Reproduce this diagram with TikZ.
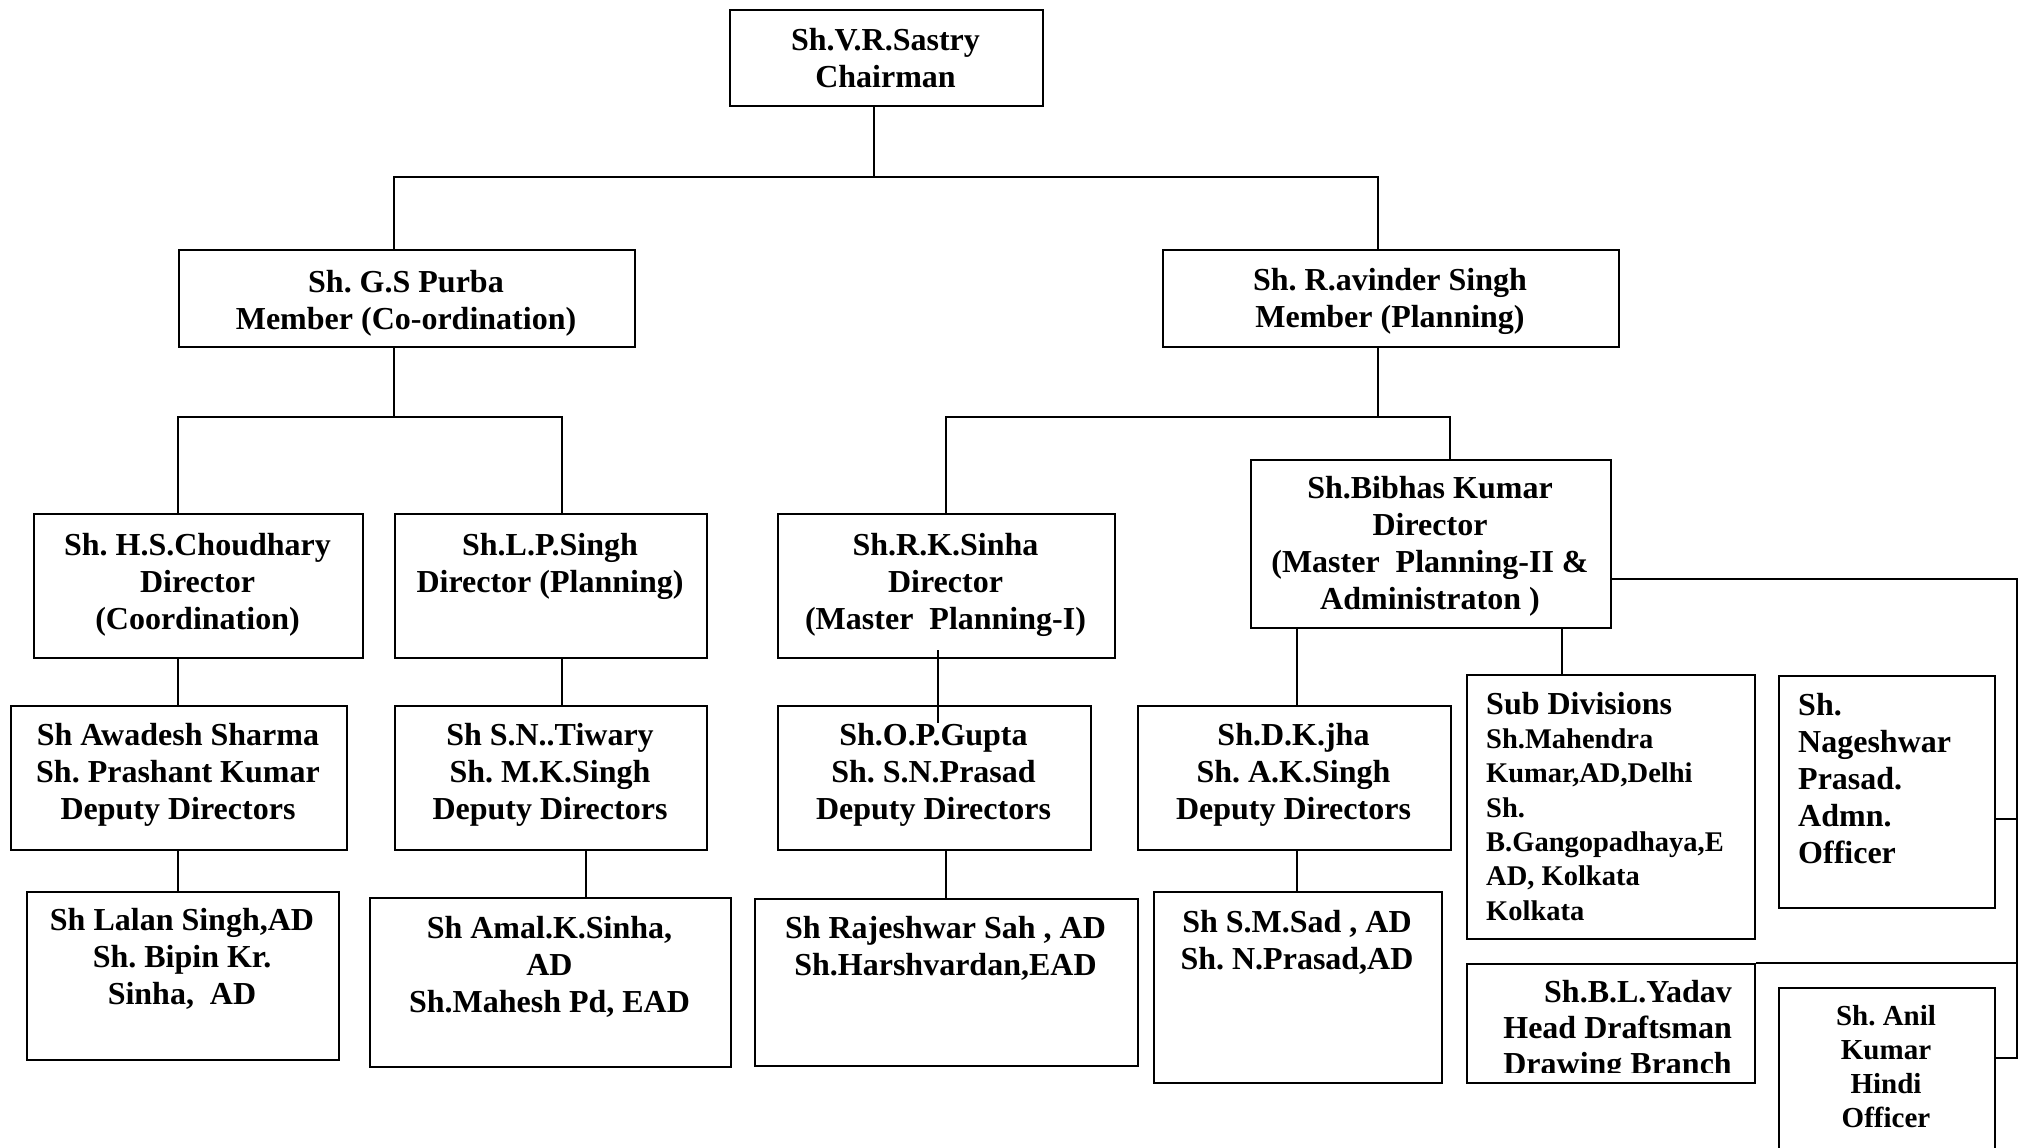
\documentclass[tikz,border=0pt]{standalone}
\usepackage{fontspec}
\setmainfont{Liberation Serif}
\frenchspacing
\newcommand\fl{\rule{0pt}{29pt}}
\newcommand\fs{\rule{0pt}{26pt}}
\tikzset{
  obox/.style={draw, line width=2pt, rectangle, inner sep=0pt, anchor=north west},
  otxt/.style={inner sep=0pt, align=center, anchor=north, font=\fontsize{32}{37}\selectfont\bfseries\frenchspacing},
  conn/.style={line width=1.8pt},
}
\begin{document}
\begin{tikzpicture}[x=1pt,y=-1pt]
\clip (0,0) rectangle (2019,1148);
\fill[white] (0,0) rectangle (2019,1148);

% boxes
\node[obox, minimum width=313pt, minimum height=96pt] (chair) at (729,9) {};
\node[obox, minimum width=456pt, minimum height=97pt] (purba) at (178,249) {};
\node[obox, minimum width=456pt, minimum height=97pt] (ravi) at (1162,249) {};
\node[obox, minimum width=329pt, minimum height=144pt] (chou) at (33,513) {};
\node[obox, minimum width=312pt, minimum height=144pt] (lps) at (394,513) {};
\node[obox, minimum width=337pt, minimum height=144pt] (rks) at (777,513) {};
\node[obox, minimum width=360pt, minimum height=168pt] (bib) at (1250,459) {};
\node[obox, minimum width=336pt, minimum height=144pt] (awa) at (10,705) {};
\node[obox, minimum width=312pt, minimum height=144pt] (tiw) at (394,705) {};
\node[obox, minimum width=313pt, minimum height=144pt] (opg) at (777,705) {};
\node[obox, minimum width=313pt, minimum height=144pt] (dkj) at (1137,705) {};
\node[obox, minimum width=288pt, minimum height=264pt] (subd) at (1466,674) {};
\node[obox, minimum width=216pt, minimum height=232pt] (nag) at (1778,675) {};
\node[obox, minimum width=312pt, minimum height=168pt] (lal) at (26,891) {};
\node[obox, minimum width=361pt, minimum height=169pt] (amal) at (369,897) {};
\node[obox, minimum width=383pt, minimum height=167pt] (raj) at (754,898) {};
\node[obox, minimum width=288pt, minimum height=191pt] (sms) at (1153,891) {};
\node[obox, minimum width=288pt, minimum height=119pt] (yad) at (1466,963) {};
\node[obox, minimum width=216pt, minimum height=190pt] (anil) at (1778,987) {};

% texts
\node[otxt] (chairT) at (885.5,21) {\fl Sh.V.R.Sastry\\Chairman};
\node[otxt] (purbaT) at (406,263) {\fl Sh. G.S Purba\\Member (Co-ordination)};
\node[otxt] (raviT) at (1390,261) {\fl Sh. R.avinder Singh\\Member (Planning)};
\node[otxt] (chouT) at (197.5,526) {\fl Sh. H.S.Choudhary\\Director\\(Coordination)};
\node[otxt] (lpsT) at (550,526) {\fl Sh.L.P.Singh\\Director (Planning)};
\node[otxt] (rksT) at (945.5,526) {\fl Sh.R.K.Sinha\\Director\\(Master~~Planning-I)};
\node[otxt] (bibT) at (1430,469) {\fl Sh.Bibhas Kumar\\Director\\(Master~~Planning-II \&\\Administraton )};
\node[otxt] (awaT) at (178,716) {\fl Sh Awadesh Sharma\\Sh. Prashant Kumar\\Deputy Directors};
\node[otxt] (tiwT) at (550,716) {\fl Sh S.N..Tiwary\\Sh. M.K.Singh\\Deputy Directors};
\node[otxt] (opgT) at (933.5,716) {\fl Sh.O.P.Gupta\\Sh. S.N.Prasad\\Deputy Directors};
\node[otxt] (dkjT) at (1293.5,716) {\fl Sh.D.K.jha\\Sh. A.K.Singh\\Deputy Directors};
\node[otxt] (lalT) at (182,901) {\fl Sh Lalan Singh,AD\\Sh. Bipin Kr.\\Sinha,~~AD};
\node[otxt] (amalT) at (549.5,909) {\fl Sh Amal.K.Sinha,\\AD\\Sh.Mahesh Pd, EAD};
\node[otxt] (rajT) at (945.5,909) {\fl Sh Rajeshwar Sah , AD\\Sh.Harshvardan,EAD};
\node[otxt] (smsT) at (1297,903) {\fl Sh S.M.Sad , AD\\Sh. N.Prasad,AD};
\node[otxt, anchor=north west, align=left, font=\fontsize{28.5}{34.3}\selectfont\bfseries\frenchspacing] (subdT) at (1486,685)
  {\fl{\fontsize{32}{34.3}\selectfont Sub Divisions}\\Sh.Mahendra\\Kumar,AD,Delhi\\Sh.\\B.Gangopadhaya,E\\AD, Kolkata\\Kolkata};
\node[otxt, anchor=north west, align=left] (nagT) at (1798,686) {\fl Sh.\\Nageshwar\\Prasad.\\Admn.\\Officer};
\begin{scope}
  \clip (1466,963) rectangle (1754,1072);
  \node[otxt, anchor=north east, align=right, font=\fontsize{32}{36}\selectfont\bfseries\frenchspacing] (yadT) at (1732,973) {\fl Sh.B.L.Yadav\\Head Draftsman\\Drawing Branch};
\end{scope}
\node[otxt, font=\fontsize{29}{34}\selectfont\bfseries\frenchspacing] (anilT) at (1886,999) {\fs Sh. Anil\\Kumar\\Hindi\\Officer};

% junction coordinates
\coordinate (h1m) at (874,177);
\coordinate (h1l) at (394,177);
\coordinate (h1r) at (1378,177);
\coordinate (h2l) at (178,417);
\coordinate (h2r) at (562,417);
\coordinate (h3l) at (946,417);
\coordinate (h3r) at (1450,417);
\coordinate (xa) at (586,870);
\coordinate (xb1) at (938,650);
\coordinate (xb2) at (938,723);
\coordinate (xc) at (1297,660);
\coordinate (xd) at (1562,650);
\coordinate (rb1) at (2017,579);
\coordinate (rn) at (2017,819);
\coordinate (rb2) at (2017,1058);

% connectors
\draw[conn] (chair.south -| h1m) -- (h1m);
\draw[conn] (purba.north -| h1l) -- (h1l) -- (h1r) -- (ravi.north -| h1r);
\draw[conn] (purba.south -| h1l) -- (h1l |- h2l);
\draw[conn] (chou.north -| h2l) -- (h2l) -- (h2r) -- (lps.north -| h2r);
\draw[conn] (ravi.south -| h1r) -- (h1r |- h3l);
\draw[conn] (rks.north -| h3l) -- (h3l) -- (h3r) -- (bib.north -| h3r);
\draw[conn] (chou.south -| h2l) -- (awa.north -| h2l);
\draw[conn] (awa.south -| h2l) -- (lal.north -| h2l);
\draw[conn] (lps.south -| h2r) -- (tiw.north -| h2r);
\draw[conn] (tiw.south -| xa) -- (amal.north -| xa);
\draw[conn] (xb1) -- (xb2);
\draw[conn] (opg.south -| h3l) -- (raj.north -| h3l);
\draw[conn] (bib.south -| xc) -- (dkj.north -| xc);
\draw[conn] (dkj.south -| xc) -- (sms.north -| xc);
\draw[conn] (bib.south -| xd) -- (subd.north -| xd);
\draw[conn] (bib.east |- rb1) -- (rb1) -- (rb2) -- (anil.east |- rb2);
\draw[conn] (nag.east |- rn) -- (rn);
\draw[conn] (yad.north east) -- (yad.north east -| rb1);
\end{tikzpicture}
\end{document}
